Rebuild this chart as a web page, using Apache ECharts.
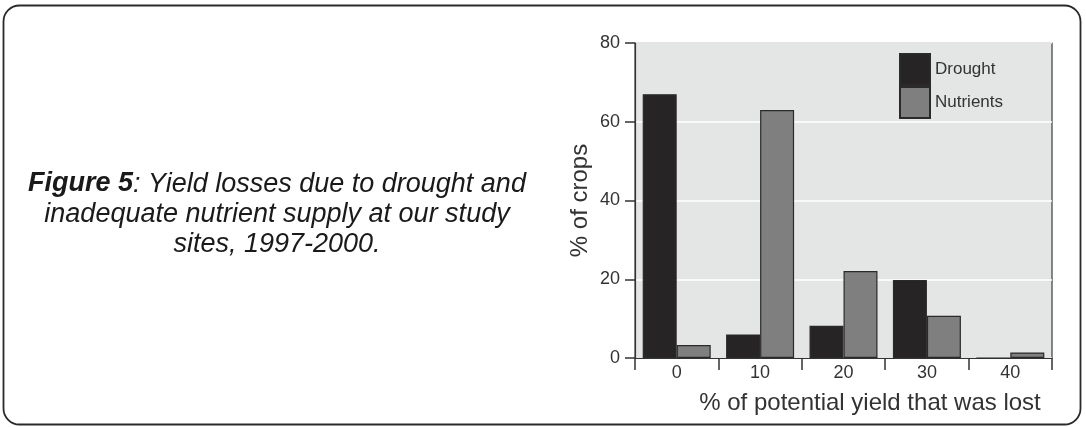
<!DOCTYPE html>
<html><head><meta charset="utf-8">
<script src="https://cdn.jsdelivr.net/npm/echarts@6/dist/echarts.min.js"></script>
<style>html,body{margin:0;padding:0;background:#fff}#c{width:1086px;height:427px}</style>
</head><body><div id="c"></div>
<script>
const categories = ['0', '10', '20', '30', '40'];
const drought = [67, 6, 8.2, 19.8, 0];
const nutrients = [3.3, 63, 22.1, 10.7, 1.4];
const yTicks = [0, 20, 40, 60, 80];
const seriesNames = ['Drought', 'Nutrients'];
const captionBold = 'Figure 5';
const captionRest = ': Yield losses due to drought and\ninadequate nutrient supply at our study\nsites, 1997-2000.';
const yName = '% of crops';
const xName = '% of potential yield that was lost';

const F = '"Liberation Sans", Arial, Helvetica, sans-serif';
const chart = echarts.init(document.getElementById('c'), null, {renderer: 'canvas'});
chart.setOption({
  animation: false,
  textStyle: {fontFamily: F},
  grid: {left: 635, right: 34, top: 43, bottom: 69, show: true, backgroundColor: '#e4e5e5', borderColor: '#3a3a3a', borderWidth: 1.2},
  legend: {
    data: seriesNames, orient: 'vertical', left: 899, top: 53, itemWidth: 30, itemHeight: 31, itemGap: 0,
    icon: 'rect', textStyle: {fontFamily: F, fontSize: 17, color: '#333'}, padding: 0
  },
  xAxis: {
    type: 'category', data: categories,
    axisLine: {lineStyle: {color: '#333', width: 1.2}},
    axisTick: {show: true, length: 12, lineStyle: {color: '#333', width: 1.5}},
    axisLabel: {fontFamily: F, fontSize: 18, color: '#333', margin: 6},
    name: xName, nameLocation: 'middle', nameGap: 33,
    nameTextStyle: {fontFamily: F, fontSize: 24, color: '#333', padding: [0, 0, 0, 53]}
  },
  yAxis: {
    type: 'value', min: yTicks[0], max: yTicks[yTicks.length - 1], interval: 20,
    axisLine: {show: true, lineStyle: {color: '#333', width: 1.2}},
    axisTick: {show: true, length: 10, lineStyle: {color: '#333', width: 1.5}},
    axisLabel: {fontFamily: F, fontSize: 18, color: '#333', margin: 15},
    splitLine: {lineStyle: {color: '#ffffff', width: 1.5}},
    name: yName, nameLocation: 'middle', nameGap: 43,
    nameTextStyle: {fontFamily: F, fontSize: 24, color: '#333', padding: [0, 0, 0, 0]}
  },
  series: [
    {name: seriesNames[0], type: 'bar', data: drought, barWidth: 34, barGap: '0%',
     itemStyle: {color: '#262425', borderColor: '#2a2a2a', borderWidth: 1.2}},
    {name: seriesNames[1], type: 'bar', data: nutrients, barWidth: 34,
     itemStyle: {color: '#7f7f7f', borderColor: '#2a2a2a', borderWidth: 1.2}}
  ],
  graphic: [
    {type: 'rect', shape: {x: 3.5, y: 5.5, width: 1077, height: 419, r: 16}, style: {fill: 'none', stroke: '#2a2a2a', lineWidth: 1.8}, z: 100},
    {type: 'text', x: 277, y: 214,
     style: {
       text: '{b|' + captionBold + '}' + captionRest,
       align: 'center', verticalAlign: 'middle',
       font: 'italic 27px ' + F, fill: '#1a1a1a', lineHeight: 30,
       rich: {b: {fontWeight: 'bold', fontStyle: 'italic', fontSize: 27, fontFamily: F, fill: '#1a1a1a', lineHeight: 30}}
     }}
  ]
});
</script></body></html>
